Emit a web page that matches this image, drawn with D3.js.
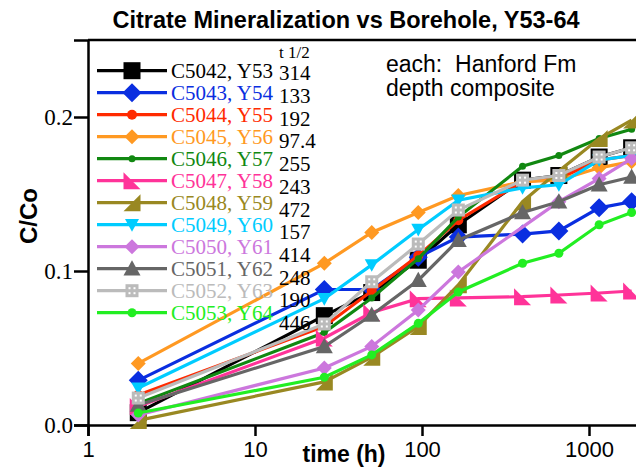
<!DOCTYPE html>
<html>
<head>
<meta charset="utf-8">
<script src="https://cdn.jsdelivr.net/npm/d3@7"></script>
<style>
  body { margin: 0; background: #fff; }
  svg { display: block; }
</style>
</head>
<body>
<div id="chart"></div>
<script>
// sampling times (h)
const times = [2, 26, 50, 95, 165, 400, 660, 1150, 1800];

const sampleIds = ["C5042, Y53", "C5043, Y54", "C5044, Y55", "C5045, Y56", "C5046, Y57", "C5047, Y58",
  "C5048, Y59", "C5049, Y60", "C5050, Y61", "C5051, Y62", "C5052, Y63", "C5053, Y64"];

const halfLives = ["314", "133", "192", "97.4", "255", "243", "472", "157", "414", "248", "190", "446"];

// C/Co per sample, one value per time (null = no sample)
const c5042 = [0.008, 0.071, 0.086, 0.107, 0.130, 0.159, 0.162, 0.174, 0.180];
const c5043 = [0.029, 0.088, 0.088, 0.109, 0.122, 0.124, 0.126, 0.141, 0.145];
const c5044 = [0.0195, 0.064, 0.087, 0.110, 0.133, 0.158, 0.160, 0.172, 0.175];
const c5045 = [0.040, 0.105, 0.125, 0.138, 0.149, 0.158, 0.159, 0.167, 0.171];
const c5046 = [0.014, 0.060, 0.0825, 0.108, 0.135, 0.168, 0.175, 0.186, 0.192];
const c5047 = [0.012, 0.0565, 0.073, 0.082, 0.0825, 0.0833, 0.0844, 0.0857, 0.087];
const c5048 = [0.003, 0.028, 0.044, 0.064, 0.091, 0.145, 0.165, 0.186, 0.198];
const c5049 = [0.024, 0.082, 0.104, 0.127, 0.146, 0.154, 0.156, 0.172, 0.175];
const c5050 = [0.0065, 0.037, 0.051, 0.0747, 0.0994, null, 0.145, 0.160, 0.173];
const c5051 = [0.013, 0.051, 0.0714, 0.094, 0.120, 0.138, 0.145, 0.156, 0.161];
const c5052 = [0.0175, 0.0656, 0.093, 0.1175, 0.1396, 0.159, 0.162, 0.174, 0.180];
const c5053 = [0.0078, 0.031, 0.0455, 0.066, 0.0864, 0.105, 0.1115, 0.130, 0.138];

const allValues = [c5042, c5043, c5044, c5045, c5046, c5047, c5048, c5049, c5050, c5051, c5052, c5053];

const colors = ["#000000", "#0a2ee0", "#ff2a00", "#ff9922", "#118811", "#ff3399",
  "#998822", "#00ccff", "#cc77dd", "#666666", "#bbbbbb", "#22ee22"];
const shapes = ["square", "diamond", "circle", "diamond", "circle", "triLeft",
  "triRight", "triDown", "diamond", "triUp", "dotSquare", "circle"];
const sizes = [17, 19, 10, 15, 7, 17, 17, 14, 15, 17, 13, 9];

const width = 636;
const height = 468;
const margin = { top: 40, left: 88, bottom: 425 };

const svg = d3.select("#chart")
  .append("svg")
  .attr("width", width)
  .attr("height", height);

const x = d3.scaleLog()
  .domain([1, Math.pow(10, 3.3)])
  .range([margin.left, margin.left + 167 * 3.3]);

const y = d3.scaleLinear()
  .domain([0, 0.25])
  .range([margin.bottom, margin.top]);

const serif = "'Liberation Serif', 'Times New Roman', serif";
const sans = "'Liberation Sans', Arial, sans-serif";

// marker drawing
function drawMarker(g, shape, s, color) {
  const h = s / 2;
  if (shape === "square") {
    g.append("rect").attr("x", -h).attr("y", -h).attr("width", s).attr("height", s).attr("fill", color);
  } else if (shape === "dotSquare") {
    g.append("rect").attr("x", -h).attr("y", -h).attr("width", s).attr("height", s).attr("fill", color);
    [[-1, -1], [1, -1], [-1, 1], [1, 1]].forEach(([a, b]) => {
      g.append("rect").attr("x", a * 2.5 - 1).attr("y", b * 2.5 - 1)
        .attr("width", 2).attr("height", 2).attr("fill", "#fff");
    });
  } else if (shape === "diamond") {
    g.append("path").attr("d", `M0,${-h}L${h},0L0,${h}L${-h},0Z`).attr("fill", color);
  } else if (shape === "circle") {
    g.append("circle").attr("r", h).attr("fill", color);
  } else if (shape === "triLeft") {
    g.append("path").attr("d", `M${-h},${-h}L${h},${h}L${-h},${h}Z`).attr("fill", color);
  } else if (shape === "triRight") {
    g.append("path").attr("d", `M${h},${-h}L${h},${h}L${-h},${h}Z`).attr("fill", color);
  } else if (shape === "triDown") {
    g.append("path").attr("d", `M${-h},${-h * 0.8}L${h},${-h * 0.8}L0,${h}Z`).attr("fill", color);
  } else if (shape === "triUp") {
    g.append("path").attr("d", `M${-h},${h * 0.8}L${h},${h * 0.8}L0,${-h}Z`).attr("fill", color);
  }
}

// x axis: major and minor ticks
const xMajor = [1, 10, 100, 1000];
const xMinor = [];
for (const dec of [1, 10, 100, 1000]) {
  for (let k = 2; k <= 9; k++) if (dec * k < 2000) xMinor.push(dec * k);
}

const xAxisG = svg.append("g").attr("transform", `translate(0,${margin.bottom})`);
xAxisG.call(d3.axisBottom(x).tickValues(xMinor).tickSize(7).tickFormat(""));
xAxisG.call(d3.axisBottom(x).tickValues(xMajor).tickSize(11).tickFormat(d3.format("d")));
xAxisG.selectAll("path.domain").attr("stroke-width", 2.5);
xAxisG.selectAll("line").attr("stroke-width", 2.5);
xAxisG.selectAll("text")
  .attr("y", 16).attr("dy", "0.71em")
  .style("font-family", sans).style("font-size", "22px").attr("fill", "#000");

// y axis
const yMinor = d3.range(0, 0.2501, 0.025).filter(v => Math.abs(v * 10 - Math.round(v * 10)) > 1e-6);
const yAxisG = svg.append("g").attr("transform", `translate(${margin.left},0)`);
yAxisG.call(d3.axisLeft(y).tickValues(yMinor.filter(v => v < 0.249)).tickSize(8).tickFormat(""));
yAxisG.call(d3.axisLeft(y).tickValues([0, 0.1, 0.2]).tickSize(14).tickFormat(d3.format(".1f")));
yAxisG.selectAll("path.domain").attr("stroke-width", 2.5);
yAxisG.selectAll("line").attr("stroke-width", 2.5);
yAxisG.selectAll("text")
  .attr("x", -15)
  .style("font-family", serif).style("font-size", "23px").attr("fill", "#000");

// top frame
svg.append("line")
  .attr("x1", margin.left).attr("x2", width)
  .attr("y1", y(0.25)).attr("y2", y(0.25))
  .attr("stroke", "#000").attr("stroke-width", 2.5);

// series
const line = d3.line().x(d => x(d.t)).y(d => y(d.v));

allValues.forEach((vals, i) => {
  const pts = times.map((t, j) => ({ t: t, v: vals[j] })).filter(d => d.v != null);
  const g = svg.append("g");
  g.append("path")
    .datum(pts)
    .attr("d", line)
    .attr("fill", "none")
    .attr("stroke", colors[i])
    .attr("stroke-width", 3.2);
  pts.forEach(d => {
    const m = g.append("g").attr("transform", `translate(${x(d.t)},${y(d.v)})`);
    drawMarker(m, shapes[i], sizes[i], colors[i]);
  });
});

// legend
const legend = svg.append("g");
sampleIds.forEach((id, i) => {
  const cy = 70.7 + 22 * i;
  legend.append("line")
    .attr("x1", 97).attr("x2", 167).attr("y1", cy).attr("y2", cy)
    .attr("stroke", colors[i]).attr("stroke-width", 3.2);
  drawMarker(legend.append("g").attr("transform", `translate(132,${cy})`), shapes[i], sizes[i], colors[i]);
  legend.append("text")
    .attr("x", 171).attr("y", cy + 7)
    .style("font-family", serif).style("font-size", "21px")
    .attr("fill", colors[i])
    .text(id);
});

svg.append("text")
  .attr("x", 279).attr("y", 58)
  .style("font-family", serif).style("font-size", "17px")
  .text("t 1/2");

halfLives.forEach((h, i) => {
  svg.append("text")
    .attr("x", 279).attr("y", 80.3 + 22.7 * i)
    .style("font-family", serif).style("font-size", "21px")
    .text(h);
});

// title and labels
svg.append("text")
  .attr("x", 346).attr("y", 28)
  .attr("text-anchor", "middle")
  .style("font-family", sans).style("font-size", "23.5px").style("font-weight", "bold")
  .text("Citrate Mineralization vs Borehole, Y53-64");

svg.append("text")
  .attr("x", 344).attr("y", 462)
  .attr("text-anchor", "middle")
  .style("font-family", sans).style("font-size", "23px").style("font-weight", "bold")
  .text("time (h)");

svg.append("text")
  .attr("transform", "rotate(-90)")
  .attr("x", -216).attr("y", 37)
  .attr("text-anchor", "middle")
  .style("font-family", sans).style("font-size", "24px").style("font-weight", "bold")
  .text("C/Co");

svg.append("text")
  .attr("x", 386).attr("y", 72)
  .style("font-family", sans).style("font-size", "23px").style("white-space", "pre")
  .text("each:  Hanford Fm");

svg.append("text")
  .attr("x", 386).attr("y", 96)
  .style("font-family", sans).style("font-size", "23px")
  .text("depth composite");
</script>
</body>
</html>
